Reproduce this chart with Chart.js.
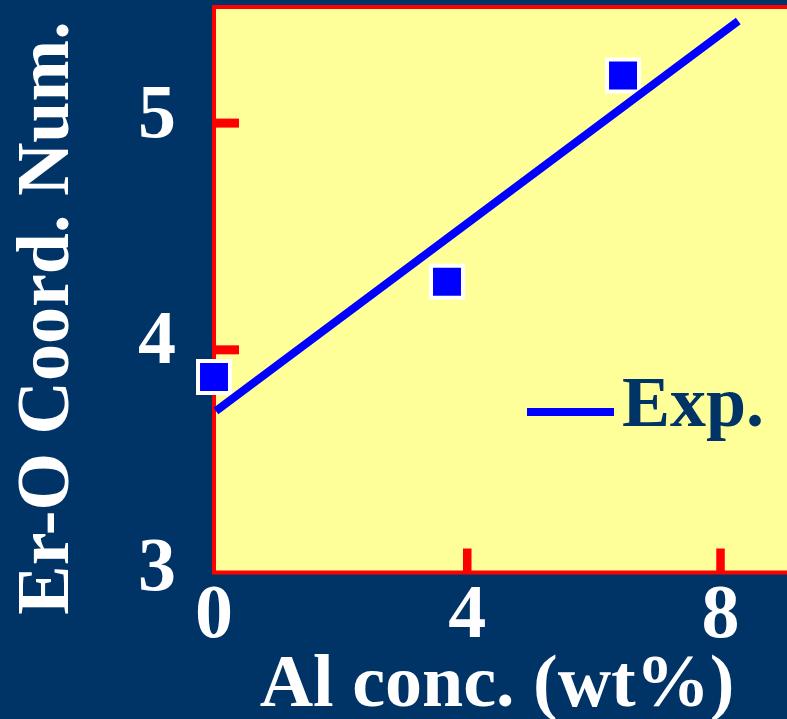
<!DOCTYPE html>
<html>
<head>
<meta charset="utf-8">
<title>Er-O coordination number vs Al concentration</title>
<script src="https://cdn.jsdelivr.net/npm/chart.js@4/dist/chart.umd.min.js"></script>
<style>
  html, body { margin: 0; padding: 0; background: #003366; overflow: hidden; }
  canvas { display: block; }
</style>
</head>
<body>
<canvas id="chart" width="787" height="719"></canvas>
<script>
// Measured Er-O coordination numbers
const alConc = [0, 3.68, 6.46];          // Al concentration, wt%
const coordNum = [3.88, 4.30, 5.21];     // Er-O coordination number

// Linear fit drawn as the "Exp." line (endpoints)
const fitLabel = 'Exp.';
const fitX = [0.03, 8.28];
const fitY = [3.73, 5.45];

// Axis ticks
const xTicks = [0, 4, 8];
const yTicks = [3, 4, 5];

const xTitle = 'Al conc. (wt%)';
const yTitle = 'Er-O Coord. Num.';

const NAVY = '#003366';
const PLOT_BG = '#ffff99';
const RED = '#ff0000';
const BLUE = '#0000ff';
const SERIF = "'Liberation Serif', 'Times New Roman', serif";

// keep the plot area fixed: no extra room for overhanging tick labels
function noPadding(s) {
  s.paddingTop = 0;
  s.paddingBottom = 0;
  s.paddingLeft = 0;
  s.paddingRight = 0;
}

// Background, red frame, inner tick marks, axis titles and legend
const framePlugin = {
  id: 'frame',
  beforeDraw(chart) {
    const { ctx, chartArea: a, width, height } = chart;
    ctx.save();
    ctx.fillStyle = NAVY;
    ctx.fillRect(0, 0, width, height);
    ctx.fillStyle = PLOT_BG;
    ctx.fillRect(a.left, a.top, a.right - a.left, a.bottom - a.top);
    ctx.restore();
  },
  beforeDatasetsDraw(chart) {
    const { ctx, chartArea: a, scales } = chart;
    ctx.save();
    ctx.strokeStyle = RED;
    ctx.lineCap = 'butt';
    ctx.lineWidth = 4;
    ctx.beginPath();
    ctx.moveTo(chart.width + 2, a.top);
    ctx.lineTo(a.left, a.top);
    ctx.lineTo(a.left, a.bottom);
    ctx.lineTo(chart.width + 2, a.bottom);
    ctx.stroke();
    // inner ticks on the y axis
    ctx.lineWidth = 9;
    yTicks.forEach(v => {
      if (v <= scales.y.min) return;
      const py = scales.y.getPixelForValue(v);
      ctx.beginPath();
      ctx.moveTo(a.left, py);
      ctx.lineTo(a.left + 25, py);
      ctx.stroke();
    });
    // inner ticks on the x axis
    ctx.lineWidth = 8.5;
    xTicks.forEach(v => {
      if (v <= scales.x.min) return;
      const px = scales.x.getPixelForValue(v);
      ctx.beginPath();
      ctx.moveTo(px, a.bottom);
      ctx.lineTo(px, a.bottom - 24);
      ctx.stroke();
    });
    ctx.restore();
  },
  afterDraw(chart) {
    const { ctx } = chart;
    ctx.save();
    ctx.fillStyle = '#ffffff';
    ctx.font = 'bold 74px ' + SERIF;
    // x axis title
    ctx.textAlign = 'center';
    ctx.textBaseline = 'alphabetic';
    ctx.fillText(xTitle, 497, 706);
    // y axis title, rotated
    ctx.translate(68, 318);
    ctx.rotate(-Math.PI / 2);
    ctx.fillText(yTitle, 0, 0);
    ctx.restore();

    // legend for the fit line
    const ds = chart.data.datasets[0];
    ctx.save();
    ctx.strokeStyle = ds.borderColor;
    ctx.lineWidth = 8;
    ctx.lineCap = 'butt';
    ctx.beginPath();
    ctx.moveTo(527, 412);
    ctx.lineTo(614, 412);
    ctx.stroke();
    ctx.fillStyle = NAVY;
    ctx.font = 'bold 72px ' + SERIF;
    ctx.textAlign = 'left';
    ctx.textBaseline = 'alphabetic';
    ctx.fillText(ds.label, 622, 426);
    ctx.restore();
  }
};

new Chart(document.getElementById('chart'), {
  type: 'scatter',
  data: {
    datasets: [
      {
        type: 'line',
        label: fitLabel,
        data: fitX.map((x, i) => ({ x, y: fitY[i] })),
        borderColor: BLUE,
        borderWidth: 8,
        borderCapStyle: 'butt',
        pointRadius: 0,
        fill: false,
        clip: false
      },
      {
        label: 'data',
        data: alConc.map((x, i) => ({ x, y: coordNum[i] })),
        pointStyle: 'rect',
        pointRadius: 22.6,
        pointHoverRadius: 22.6,
        backgroundColor: BLUE,
        borderColor: '#ffffff',
        borderWidth: 4,
        clip: false
      }
    ]
  },
  options: {
    responsive: false,
    animation: false,
    devicePixelRatio: 1,
    layout: { autoPadding: false, padding: { top: 7, right: 0, bottom: 0, left: 0 } },
    plugins: {
      legend: { display: false },
      tooltip: { enabled: false }
    },
    scales: {
      x: {
        type: 'linear',
        min: 0,
        max: 9.05,
        grid: { display: false, drawTicks: false },
        border: { display: false },
        afterBuildTicks: s => { s.ticks = xTicks.map(v => ({ value: v })); },
        ticks: {
          includeBounds: false,
          padding: -1,
          color: '#ffffff',
          maxRotation: 0,
          font: { family: SERIF, size: 76, weight: 'bold', lineHeight: 1.2 }
        },
        afterFit: s => { s.height = 146.5; noPadding(s); }
      },
      y: {
        type: 'linear',
        min: 3.018,
        max: 5.512,
        grid: { display: false, drawTicks: false },
        border: { display: false },
        afterBuildTicks: s => { s.ticks = yTicks.map(v => ({ value: v })); },
        ticks: {
          includeBounds: false,
          padding: 38,
          labelOffset: -6,
          color: '#ffffff',
          font: { family: SERIF, size: 76, weight: 'bold', lineHeight: 1.2 }
        },
        afterFit: s => { s.width = 214; noPadding(s); }
      }
    }
  },
  plugins: [framePlugin]
});
</script>
</body>
</html>
